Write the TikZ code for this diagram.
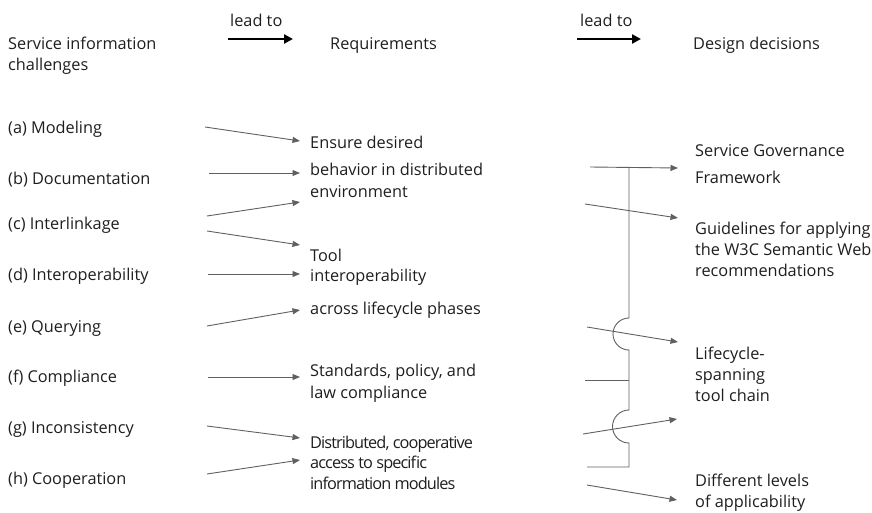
\documentclass[tikz,border=0pt]{standalone}
\usepackage{fontspec}
\setmainfont{Open Sans}
\usetikzlibrary{arrows.meta}
\definecolor{ln}{HTML}{606060}
\definecolor{tx}{HTML}{1E1E1E}
\begin{document}
\begin{tikzpicture}[x=1pt,y=-1pt,
  txt/.style={anchor=base west, inner sep=0pt, font=\fontsize{16.3}{19}\selectfont, text=tx},
  cond/.style={anchor=base west, inner sep=0pt, font=\fontsize{16.3}{19}\selectfont\addfontfeatures{LetterSpace=-5.5}, text=tx},
  garr/.style={draw=ln, line width=0.9pt, -{Triangle[length=7.5pt,width=6pt]}},
  bigarr/.style={draw=black, line width=2.4pt, -{Triangle[length=9pt,width=9pt]}},
  wire/.style={draw=ln, line width=0.9pt}]
\useasboundingbox (0,0) rectangle (872,513);
% headers
\node[txt] (h1a) at (8,50) {Service information};
\node[txt] (h1b) at (8,71) {challenges};
\node[txt] (lt1) at (230,27) {lead to};
\coordinate (la1) at (228,39);
\coordinate (la2) at (293,39);
\draw[bigarr] (la1) -- (la2);
\node[txt] (h2) at (330,50) {Requirements};
\node[txt] (lt2) at (580,27) {lead to};
\coordinate (lb1) at (577,39);
\coordinate (lb2) at (641,39);
\draw[bigarr] (lb1) -- (lb2);
\node[txt] (h3) at (693,50) {Design decisions};
% challenges
\node[txt] (a) at (8,134) {(a) Modeling};
\node[txt] (b) at (8,185) {(b) Documentation};
\node[txt] (c) at (8,229) {(c) Interlinkage};
\node[txt] (d) at (8,280) {(d) Interoperability};
\node[txt] (e) at (8,332) {(e) Querying};
\node[txt] (f) at (8,382) {(f) Compliance};
\node[txt] (g) at (8,433) {(g) Inconsistency};
\node[txt] (h) at (8,484) {(h) Cooperation};
% requirements
\node[txt] (r1a) at (310,149) {Ensure desired};
\node[txt] (r1b) at (310,176) {behavior in distributed};
\node[txt] (r1c) at (310,197) {environment};
\node[txt] (r2a) at (310,261) {Tool};
\node[txt] (r2b) at (310,281) {interoperability};
\node[txt] (r2c) at (310,314) {across lifecycle phases};
\node[txt] (r3a) at (310,376) {Standards, policy, and};
\node[txt] (r3b) at (310,398) {law compliance};
\node[cond] (r4a) at (310,448) {Distributed, cooperative};
\node[cond] (r4b) at (310,468) {access to specific};
\node[cond] (r4c) at (310,489) {information modules};
% design decisions
\node[txt] (d1a) at (695,157) {Service Governance};
\node[txt] (d1b) at (695,183) {Framework};
\node[txt] (d2a) at (695,234) {Guidelines for applying};
\node[txt] (d2b) at (695,255) {the W3C Semantic Web};
\node[txt] (d2c) at (695,276) {recommendations};
\node[txt] (d3a) at (695,359) {Lifecycle-};
\node[txt] (d3b) at (695,380) {spanning};
\node[txt] (d3c) at (695,401) {tool chain};
\node[txt] (d4a) at (695,486) {Different levels};
\node[txt] (d4b) at (695,507) {of applicability};
% left arrows
\coordinate (sa) at (205,127);  \coordinate (ta) at (300,141);
\coordinate (sb) at (209,173);  \coordinate (tb) at (300,173);
\coordinate (sc1) at (207,216); \coordinate (tc1) at (300,202);
\coordinate (sc2) at (207,231); \coordinate (tc2) at (300,245);
\coordinate (sd) at (208,274);  \coordinate (td) at (300,274);
\coordinate (se) at (207,326);  \coordinate (te) at (300,310);
\coordinate (sf) at (208,377);  \coordinate (tf) at (300,377);
\coordinate (sg) at (207,426);  \coordinate (tg) at (300,438);
\coordinate (sh) at (207,474);  \coordinate (th) at (300,460);
\foreach \s/\t in {sa/ta,sb/tb,sc1/tc1,sc2/tc2,sd/td,se/te,sf/tf,sg/tg,sh/th}
  \draw[garr] (\s) -- (\t);
% right side
\coordinate (s1) at (590,167);  \coordinate (t1) at (678,168);
\coordinate (s2) at (585,204);  \coordinate (t2) at (678,218);
\coordinate (s3) at (587,327);  \coordinate (t3) at (678,342);
\coordinate (s4) at (583,434);  \coordinate (t4) at (677,419);
\coordinate (s5) at (587,485);  \coordinate (t5) at (677,500);
\coordinate (j1) at (629,167);
\coordinate (j2) at (629,380);
\coordinate (j3) at (629,467);
\coordinate (st2) at (585,380);
\coordinate (st3) at (587,467);
\foreach \s/\t in {s1/t1,s2/t2,s3/t3,s4/t4,s5/t5}
  \draw[garr] (\s) -- (\t);
\draw[wire] (j1) -- (629,318) arc[start angle=-90, end angle=-270, radius=16]
  -- (629,410) arc[start angle=-90, end angle=-270, radius=16.5]
  -- (j3) -- (st3);
\draw[wire] (st2) -- (j2);
\end{tikzpicture}
\end{document}
